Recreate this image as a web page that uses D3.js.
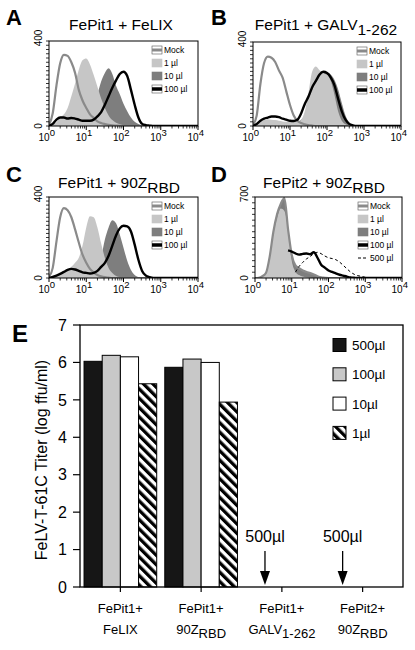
<!DOCTYPE html>
<html><head><meta charset="utf-8">
<script src="https://cdn.jsdelivr.net/npm/d3@7"></script>
<style>
body{margin:0;background:#fff}
svg{display:block}
text{font-family:"Liberation Sans",Arial,Helvetica,sans-serif;fill:#000}
</style>
</head><body>
<svg id="c" width="415" height="650"></svg>
<script>
// ---------- DATA ----------
// histogram bins (log10 of fluorescence channel)
const binLog = [0.0,0.1,0.2,0.3,0.4,0.5,0.6,0.7,0.8,0.9,1.0,1.1,1.2,1.3,1.4,1.5,1.6,1.7,1.8,1.9,2.0,2.1,2.2,2.3,2.4,2.5,2.6,2.7,2.8,2.9,3.0,3.1,3.2,3.3,3.4,3.5,3.6,3.7,3.8,3.9,4.0];
const logTickExps = [0,1,2,3,4];

// Panel A: FePit1 + FeLIX
const mockA  = [5,60,190,295,335,330,300,250,170,120, 85,55,38,22,14,9,5,3,2,1, 0,0,0,0,0,0,0,0,0,0, 0,0,0,0,0,0,0,0,0,0, 0];
const lightA = [0,5,18,40,55,85,140,200,265,310, 318,290,240,185,130,85,50,28,15,8, 4,2,0,0,0,0,0,0,0,0, 0,0,0,0,0,0,0,0,0,0, 0];
const darkA  = [0,2,4,6,8,10,12,15,20,30, 40,60,95,150,210,250,272,245,190,150, 105,70,40,20,10,4,1,0,0,0, 0,0,0,0,0,0,0,0,0,0, 0];
const blackA = [0,10,30,40,40,35,38,35,30,25, 25,25,30,45,65,100,140,180,215,245, 255,235,170,100,40,10,4,2,0,0, 0,0,0,0,0,0,0,0,0,0, 0];
// Panel B: FePit1 + GALV1-262
const mockB  = [5,50,200,300,330,325,305,265,230,165, 100,50,25,14,8,4,2,0,0,0, 0,0,0,0,0,0,0,0,0,0, 0,0,0,0,0,0,0,0,0,0, 0];
const lightB = [0,8,20,28,32,30,28,25,22,20, 20,20,20,30,70,160,260,283,265,250, 245,215,150,70,25,8,2,0,0,0, 0,0,0,0,0,0,0,0,0,0, 0];
const darkB  = [0,5,10,15,18,18,18,16,14,12, 12,15,20,30,50,90,150,200,230,250, 255,245,220,175,110,50,15,4,0,0, 0,0,0,0,0,0,0,0,0,0, 0];
const blackB = [0,10,25,35,40,45,45,42,35,30, 25,24,30,60,105,140,185,215,245,258, 252,232,195,130,70,30,10,3,0,0, 0,0,0,0,0,0,0,0,0,0, 0];
// Panel C: FePit1 + 90Z RBD
const mockC  = [5,50,180,300,345,335,300,240,175,115, 75,45,28,15,8,4,2,0,0,0, 0,0,0,0,0,0,0,0,0,0, 0,0,0,0,0,0,0,0,0,0, 0];
const lightC = [0,5,12,20,30,40,55,75,100,160, 250,305,300,250,170,100,50,25,10,5, 2,0,0,0,0,0,0,0,0,0, 0,0,0,0,0,0,0,0,0,0, 0];
const darkC  = [0,2,4,6,8,10,10,10,10,10, 12,15,20,40,100,190,250,285,270,215, 150,85,40,15,5,2,0,0,0,0, 0,0,0,0,0,0,0,0,0,0, 0];
const blackC = [0,5,12,20,30,40,45,42,35,28, 25,22,25,35,55,75,110,160,210,245, 258,255,230,165,90,35,12,4,0,0, 0,0,0,0,0,0,0,0,0,0, 0];
// Panel D: FePit2 + 90Z RBD
const mockD  = [0,2,15,45,185,400,550,640,690,420, 200,110,85,65,52,42,30,15,5,2, 0,0,0,0,0,0,0,0,0,0, 0,0,0,0,0,0,0,0,0,0, 0];
const lightD = [0,3,12,40,175,380,520,600,580,420, 150,55,25,12,6,3,1,0,0,0, 0,0,0,0,0,0,0,0,0,0, 0,0,0,0,0,0,0,0,0,0, 0];
const darkD  = [0,2,14,42,180,395,545,635,685,415, 195,105,80,62,50,40,28,14,5,2, 0,0,0,0,0,0,0,0,0,0, 0,0,0,0,0,0,0,0,0,0, 0];
const blackD = [null,null,null,null,null,null,null,null,null,238, 228,212,202,208,212,205,222,175,115,90, 65,52,40,28,20,12,5,2,0,0, 0,0,0,0,0,0,0,0,0,0, 0];
const dashD  = [null,null,null,null,null,null,null,null,null,null, null,50,100,135,165,185,210,222,210,190, 175,168,158,138,110,80,52,32,20,14, 6,2,0,0,0,0,0,0,0,0, 0];

const legend4 = ["Mock","1 \u00b5l","10 \u00b5l","100 \u00b5l"];
const legend5 = ["Mock","1 \u00b5l","10 \u00b5l","100 \u00b5l","500 \u00b5l"];

// Panel E: titers
const catLine1 = ["FePit1+","FePit1+","FePit1+","FePit2+"];
const catLine2 = ["FeLIX","90Z","GALV","90Z"];
const catSub   = ["","RBD","1-262","RBD"];
const doses = ["500\u00b5l","100\u00b5l","10\u00b5l","1\u00b5l"];
const titer500 = [6.03, 5.87, null, null];
const titer100 = [6.19, 6.09, null, null];
const titer10  = [6.15, 6.00, null, null];
const titer1   = [5.43, 4.94, null, null];
const yTicksE = [0,1,2,3,4,5,6,7];
const arrowCats = [2,3];
const arrowLabel = "500\u00b5l";

// ---------- DRAW ----------
const svg = d3.select("#c");
const defs = svg.append("defs");
const COL = {light:"#c6c6c6", dark:"#7e7e7e", mock:"#8a8a8a"};

const histPanels = [
  {letter:"A", lx:6,  ly:25, title:"FePit1 + FeLIX", sub:"", tx:121, ty:30, frame:[49,198,41,126], yMax:400, yStep:20, legX:152,
   mock:mockA, d1:lightA, d10:darkA, d100:blackA, d500:null, legend:legend4},
  {letter:"B", lx:211, ly:25, title:"FePit1 + GALV", sub:"1-262", tx:326, ty:30, frame:[253,401,42,126], yMax:400, yStep:20, legX:357,
   mock:mockB, d1:lightB, d10:darkB, d100:blackB, d500:null, legend:legend4},
  {letter:"C", lx:6,  ly:182, title:"FePit1 + 90Z", sub:"RBD", tx:119, ty:188, frame:[49,198,197,278], yMax:400, yStep:20, legX:152,
   mock:mockC, d1:lightC, d10:darkC, d100:blackC, d500:null, legend:legend4},
  {letter:"D", lx:211, ly:182, title:"FePit2 + 90Z", sub:"RBD", tx:324, ty:188, frame:[255,402,197,278], yMax:700, yStep:50, legX:358,
   mock:mockD, d1:lightD, d10:darkD, d100:blackD, d500:dashD, legend:legend5}
];

histPanels.forEach((p,pi)=>{
  const [fx0,fx1,fy0,fy1] = p.frame;
  const x = d3.scaleLog().domain([1,1e4]).range([fx0,fx1]);
  const y = d3.scaleLinear().domain([0,p.yMax]).range([fy1,fy0]);
  const px = (d,i)=>x(Math.pow(10,binLog[i]));
  const area = d3.area().x(px).y0(y(0)).y1(d=>y(d)).curve(d3.curveMonotoneX);
  const line = d3.line().defined(d=>d!=null).x(px).y(d=>y(d)).curve(d3.curveMonotoneX);
  const cid = "clip"+pi;
  defs.append("clipPath").attr("id",cid).append("rect")
    .attr("x",fx0).attr("y",fy0).attr("width",fx1-fx0).attr("height",fy1-fy0);
  const g = svg.append("g").attr("clip-path",`url(#${cid})`);
  g.append("path").attr("d",area(p.d10)).attr("fill",COL.dark);
  g.append("path").attr("d",area(p.d1)).attr("fill",COL.light);
  g.append("path").attr("d",line(p.mock)).attr("fill","none").attr("stroke",COL.mock).attr("stroke-width",2.2);
  if(p.d500) g.append("path").attr("d",line(p.d500)).attr("fill","none").attr("stroke","#000")
      .attr("stroke-width",1).attr("stroke-dasharray","3,2.5");
  g.append("path").attr("d",line(p.d100)).attr("fill","none").attr("stroke","#000").attr("stroke-width",2.4);

  svg.append("rect").attr("x",fx0).attr("y",fy0).attr("width",fx1-fx0).attr("height",fy1-fy0)
    .attr("fill","none").attr("stroke","#000").attr("stroke-width",1);

  // y ticks
  d3.range(0,p.yMax+1e-6,p.yStep).forEach(v=>{
    svg.append("line").attr("x1",fx0-3).attr("x2",fx0).attr("y1",y(v)).attr("y2",y(v))
      .attr("stroke","#000").attr("stroke-width",0.8);
  });
  [0,p.yMax].forEach(v=>{
    svg.append("text").attr("transform",`translate(${fx0-7},${y(v)+(v===0?0:-3)}) rotate(-90)`)
      .attr("text-anchor","middle").attr("font-size",10).text(v);
  });
  // x ticks
  x.ticks().forEach(t=>{
    const lg = Math.log10(t);
    const major = Math.abs(lg-Math.round(lg))<1e-9;
    svg.append("line").attr("x1",x(t)).attr("x2",x(t)).attr("y1",fy1).attr("y2",fy1+(major?4:2.5))
      .attr("stroke","#000").attr("stroke-width",major?1:0.8);
  });
  logTickExps.forEach(e=>{
    const t = svg.append("text").attr("x",x(Math.pow(10,e))-10.5).attr("y",fy1+15).attr("font-size",10).text("10");
    t.append("tspan").attr("dy",-5).attr("font-size",9.5).text(e);
  });
  // title
  const tt = svg.append("text").attr("x",p.tx).attr("y",p.ty).attr("text-anchor","middle").attr("font-size",15.5).text(p.title);
  if(p.sub) tt.append("tspan").attr("dy",5).text(p.sub);
  // letter
  svg.append("text").attr("x",p.lx).attr("y",p.ly).attr("font-size",22).attr("font-weight","bold").text(p.letter);
  // legend
  p.legend.forEach((lab,i)=>{
    const cy = fy0+9+13*i;
    const bx = p.legX, bw = 10, bh = 8;
    const r = svg.append("rect").attr("x",bx).attr("y",cy-bh/2).attr("width",bw).attr("height",bh)
      .attr("stroke","#555").attr("stroke-width",0.6);
    if(i===0){ r.attr("fill","#fff");
      svg.append("line").attr("x1",bx).attr("x2",bx+bw).attr("y1",cy).attr("y2",cy).attr("stroke",COL.mock).attr("stroke-width",3);
    } else if(i===1){ r.attr("fill",COL.light).attr("stroke",COL.light); }
    else if(i===2){ r.attr("fill",COL.dark).attr("stroke",COL.dark); }
    else if(i===3){ r.attr("fill","#fff");
      svg.append("line").attr("x1",bx).attr("x2",bx+bw).attr("y1",cy).attr("y2",cy).attr("stroke","#000").attr("stroke-width",3.5);
    } else { r.attr("fill","#fff").attr("stroke","#fff");
      svg.append("line").attr("x1",bx).attr("x2",bx+bw).attr("y1",cy).attr("y2",cy).attr("stroke","#000")
        .attr("stroke-width",1).attr("stroke-dasharray","3,2");
    }
    svg.append("text").attr("x",bx+12).attr("y",cy+3).attr("font-size",8.5).text(lab);
  });
});

// ---------- Panel E ----------
const pat = defs.append("pattern").attr("id","hatch").attr("patternUnits","userSpaceOnUse")
  .attr("width",6.6).attr("height",6.6).attr("patternTransform","rotate(-45)");
pat.append("rect").attr("width",6.6).attr("height",6.6).attr("fill","#fff");
pat.append("rect").attr("width",3.3).attr("height",6.6).attr("fill","#000");

const EL = 80, ER = 403, ET = 325, EB = 587;
const x0 = d3.scaleBand().domain(d3.range(catLine1.length)).range([EL,ER]).paddingInner(0.1).paddingOuter(0.05);
const x1 = d3.scaleBand().domain(doses).range([0,x0.bandwidth()]);
const yE = d3.scaleLinear().domain([0,7]).range([EB,ET]);
const series = [
  {dose:doses[0], vals:titer500, fill:"#161616"},
  {dose:doses[1], vals:titer100, fill:"#c8c8c8"},
  {dose:doses[2], vals:titer10,  fill:"#ffffff"},
  {dose:doses[3], vals:titer1,   fill:"url(#hatch)"}
];
series.forEach(s=>{
  svg.append("g").selectAll("rect").data(s.vals.map((v,i)=>({v,i})).filter(d=>d.v!=null)).join("rect")
    .attr("x",d=>x0(d.i)+x1(s.dose)).attr("y",d=>yE(d.v))
    .attr("width",x1.bandwidth()).attr("height",d=>yE(0)-yE(d.v))
    .attr("fill",s.fill).attr("stroke","#000").attr("stroke-width",1);
});
svg.append("rect").attr("x",EL).attr("y",ET).attr("width",ER-EL).attr("height",EB-ET)
  .attr("fill","none").attr("stroke","#000").attr("stroke-width",1.3);
yTicksE.forEach(v=>{
  svg.append("line").attr("x1",EL-7).attr("x2",EL).attr("y1",yE(v)).attr("y2",yE(v)).attr("stroke","#000").attr("stroke-width",1.2);
  svg.append("text").attr("x",EL-13).attr("y",yE(v)).attr("dy","0.36em").attr("text-anchor","end").attr("font-size",16).text(v);
});
catLine1.forEach((c,i)=>{
  const cx = x0(i)+x0.bandwidth()/2;
  svg.append("line").attr("x1",cx).attr("x2",cx).attr("y1",EB).attr("y2",EB+5).attr("stroke","#000").attr("stroke-width",1.2);
  svg.append("text").attr("x",cx).attr("y",613).attr("text-anchor","middle").attr("font-size",13).text(c);
  const t = svg.append("text").attr("x",cx).attr("y",634).attr("text-anchor","middle").attr("font-size",13).text(catLine2[i]);
  if(catSub[i]) t.append("tspan").attr("dy",4).text(catSub[i]);
});
svg.append("text").attr("transform",`translate(47,${(ET+EB)/2+4}) rotate(-90)`).attr("text-anchor","middle")
  .attr("font-size",16).text("FeLV-T-61C Titer (log ffu/ml)");
svg.append("text").attr("x",12).attr("y",342).attr("font-size",24).attr("font-weight","bold").text("E");
// legend E
doses.forEach((d,i)=>{
  const cy = 345+29.3*i;
  svg.append("rect").attr("x",333).attr("y",cy-6.5).attr("width",13).attr("height",13)
    .attr("fill",series[i].fill).attr("stroke","#000").attr("stroke-width",1);
  svg.append("text").attr("x",352).attr("y",cy+5).attr("font-size",13.5).text(d);
});
// arrows
arrowCats.forEach(ci=>{
  const ax = x0(ci)+x1.bandwidth()*(ci===2?1.07:0.9);
  svg.append("text").attr("x",ax).attr("y",542).attr("text-anchor","middle").attr("font-size",16).text(arrowLabel);
  svg.append("line").attr("x1",ax).attr("x2",ax).attr("y1",551).attr("y2",572).attr("stroke","#000").attr("stroke-width",1.3);
  svg.append("path").attr("d",`M${ax-5},571 L${ax+5},571 L${ax},585 Z`).attr("fill","#000");
});
</script>
</body></html>
